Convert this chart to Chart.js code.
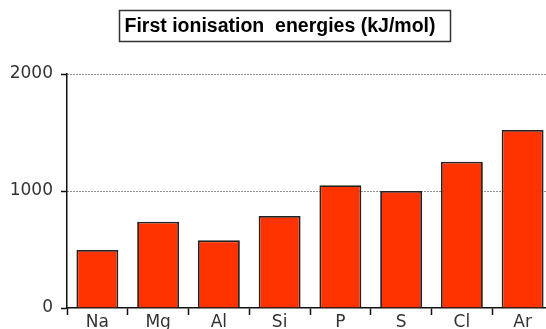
<!DOCTYPE html>
<html>
<head>
<meta charset="utf-8">
<title>First ionisation energies</title>
<script src="https://cdn.jsdelivr.net/npm/chart.js@4"></script>
<style>
  html, body { margin: 0; padding: 0; background: #fff; }
  #wrap { width: 546px; height: 329px; overflow: hidden; position: relative; }
  canvas { display: block; }
</style>
</head>
<body>
<div id="wrap"><canvas id="ieChart" width="556" height="329"></canvas></div>
<script>
const elements = ['Na', 'Mg', 'Al', 'Si', 'P', 'S', 'Cl', 'Ar'];
const energies = [496, 738, 578, 786, 1050, 1000, 1251, 1521];
const yTicks = [0, 1000, 2000];
const chartTitle = 'First ionisation  energies (kJ/mol)';

// boxed title drawn above the plot
const boxedTitle = {
    id: 'boxedTitle',
    afterDraw(chart) {
        const ctx = chart.ctx;
        ctx.save();
        ctx.strokeStyle = '#333';
        ctx.lineWidth = 1.5;
        ctx.strokeRect(119.5, 10.5, 331, 31);
        ctx.fillStyle = '#000';
        ctx.font = 'bold 19.5px "Liberation Sans", Arial, sans-serif';
        ctx.textAlign = 'center';
        ctx.textBaseline = 'alphabetic';
        ctx.fillText(chartTitle, 280, 32);
        ctx.restore();
    }
};

const ctx = document.getElementById('ieChart').getContext('2d');
new Chart(ctx, {
    type: 'bar',
    data: {
        labels: elements,
        datasets: [{
            data: energies,
            backgroundColor: '#ff3300',
            borderColor: '#222',
            borderWidth: 1.8,
            barPercentage: 0.69,
            categoryPercentage: 1
        }]
    },
    options: {
        responsive: false,
        animation: false,
        layout: { padding: { top: 74, right: 3, left: 0, bottom: 0 } },
        plugins: {
            legend: { display: false },
            title: { display: false },
            tooltip: { enabled: false }
        },
        scales: {
            x: {
                offset: true,
                grid: {
                    offset: true,
                    drawOnChartArea: false,
                    tickLength: 7,
                    tickColor: '#111',
                    tickWidth: 1.5
                },
                border: { color: '#111', width: 1.5 },
                ticks: {
                    color: '#333',
                    padding: -3,
                    font: { family: '"DejaVu Sans", sans-serif', size: 17 }
                },
                afterFit: axis => { axis.height = 21; }
            },
            y: {
                min: 0,
                max: 2000,
                afterBuildTicks: axis => { axis.ticks = yTicks.map(v => ({ value: v })); },
                grid: {
                    color: c => c.tick && c.tick.value === 0 ? 'rgba(0,0,0,0)' : '#222',
                    lineWidth: 1,
                    tickLength: 6,
                    tickColor: '#111',
                    tickWidth: 1.5,
                    tickBorderDash: [1, 0]
                },
                // in v4 the dash of the grid lines lives on the border options
                border: { color: '#111', width: 1.5, dash: [1, 2] },
                ticks: {
                    color: '#333',
                    padding: 8,
                    font: { family: '"DejaVu Sans", sans-serif', size: 17 },
                    callback: v => String(v)
                },
                afterFit: axis => { axis.width = 67; }
            }
        }
    },
    plugins: [boxedTitle]
});
</script>
</body>
</html>
